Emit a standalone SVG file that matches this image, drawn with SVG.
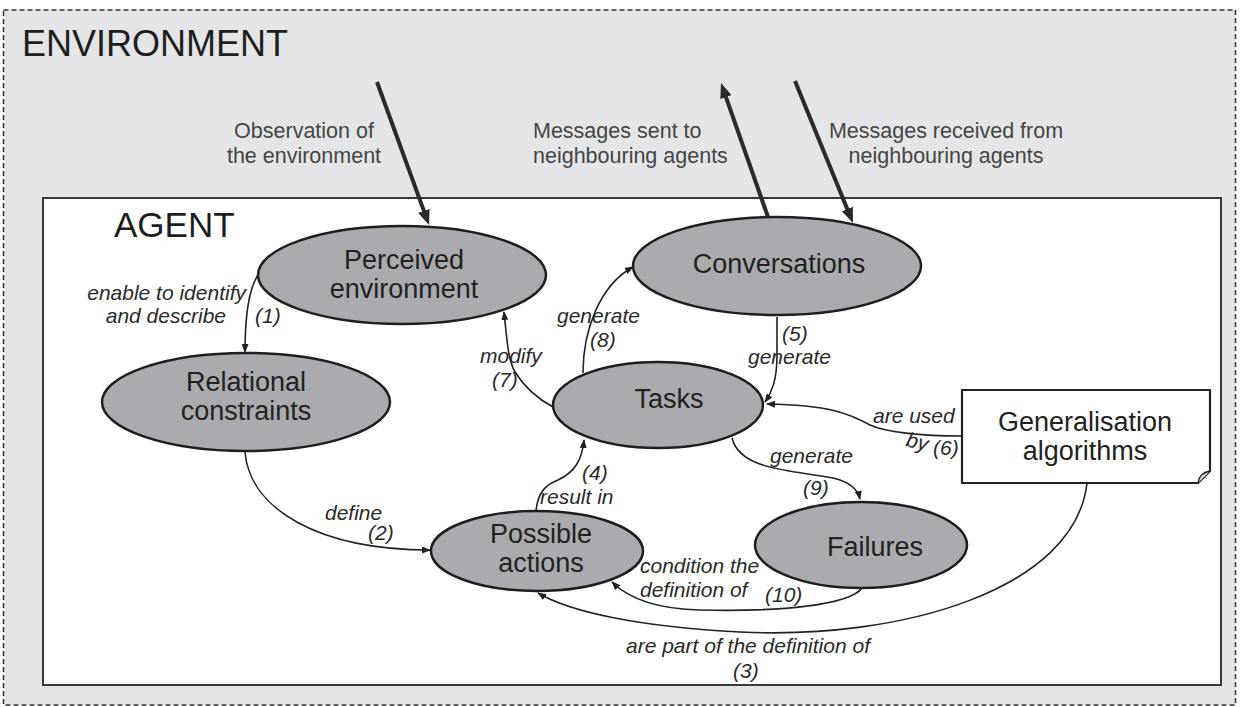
<svg xmlns="http://www.w3.org/2000/svg" width="1240" height="707" viewBox="0 0 1240 707">
<style>
.title{font-family:"Liberation Sans",Arial,sans-serif;fill:#1e1e1e}
.ext{font-family:"Liberation Sans",Arial,sans-serif;font-size:21.5px;fill:#454545}
.node{fill:#a9abae;stroke:#1e1e1e;stroke-width:2.5}
.nt{font-family:"Liberation Sans",Arial,sans-serif;font-size:27px;fill:#222;text-anchor:middle}
.lab{font-family:"Liberation Sans",Arial,sans-serif;font-size:21px;font-style:italic;fill:#2a2a2a}
.c{fill:none;stroke:#222;stroke-width:1.6;marker-end:url(#ah)}
.big{fill:none;stroke:#2a2a2a;stroke-width:4;marker-end:url(#bh)}
</style>
<defs>
<marker id="ah" viewBox="0 0 9 7" refX="8" refY="3.5" markerWidth="9" markerHeight="7" orient="auto" markerUnits="userSpaceOnUse"><path d="M0,0 L9,3.5 L0,7 z" fill="#222"/></marker>
<marker id="bh" viewBox="0 0 15 12" refX="5" refY="6" markerWidth="15" markerHeight="12" orient="auto" markerUnits="userSpaceOnUse"><path d="M0,0 L15,6 L0,12 z" fill="#2a2a2a"/></marker>
</defs>
<rect x="3.5" y="10" width="1232" height="695" fill="#e3e5e7" stroke="#333" stroke-width="1.5" stroke-dasharray="5,3"/>
<text class="title" x="22" y="56" font-size="36">ENVIRONMENT</text>
<text class="ext" x="304" y="138" text-anchor="middle">Observation of</text>
<text class="ext" x="304" y="163" text-anchor="middle">the environment</text>
<text class="ext" x="533" y="138">Messages sent to</text>
<text class="ext" x="533" y="163">neighbouring agents</text>
<text class="ext" x="946" y="138" text-anchor="middle">Messages received from</text>
<text class="ext" x="946" y="163" text-anchor="middle">neighbouring agents</text>
<rect x="43" y="198" width="1178" height="487" fill="#fff" stroke="#3a3a3a" stroke-width="2"/>
<text class="title" x="114" y="237" font-size="35">AGENT</text>
<g id="perceived"><ellipse class="node" cx="402" cy="275" rx="144" ry="49"/><text class="nt" x="404" y="269">Perceived</text><text class="nt" x="404" y="298">environment</text></g>
<g id="relational"><ellipse class="node" cx="246" cy="402" rx="144" ry="49"/><text class="nt" x="246" y="391">Relational</text><text class="nt" x="246" y="420">constraints</text></g>
<g id="conversations"><ellipse class="node" cx="777" cy="266" rx="144" ry="49"/><text class="nt" x="779" y="273">Conversations</text></g>
<g id="tasks"><ellipse class="node" cx="658" cy="405" rx="105" ry="43"/><text class="nt" x="669" y="408">Tasks</text></g>
<g id="possible"><ellipse class="node" cx="537" cy="551" rx="106" ry="40"/><text class="nt" x="541" y="543">Possible</text><text class="nt" x="541" y="572">actions</text></g>
<g id="failures"><ellipse class="node" cx="861" cy="545" rx="106" ry="43"/><text class="nt" x="875" y="556">Failures</text></g>
<g id="generalisation"><path d="M962,390 H1210 V471 L1198,483 H962 Z" fill="#fff" stroke="#222" stroke-width="2.2"/><path d="M1198,483 Q1199,473 1210,471" fill="#ddd" stroke="#222" stroke-width="1.5"/><text class="nt" x="1085" y="431" font-size="28">Generalisation</text><text class="nt" x="1085" y="460" font-size="28">algorithms</text></g>
<g id="connectors">
<path class="big" d="M377,82 L425.6,215.6"/>
<path class="big" d="M768,217 L724.3,92.4"/>
<path class="big" d="M795,81 L849.2,213.7"/>
<path class="c" d="M258,275 C248,290 245,320 245,352"/>
<path class="c" d="M245,452 C250,510 320,550 430,550"/>
<path class="c" d="M1087,483 C1075,590 900,640 740,632 C640,627 570,612 538,593"/>
<path class="c" d="M536,511 C538,490 548,484 558,480 C575,472 582,460 584,440"/>
<path class="c" d="M777,317 L777,355 C777,380 772,392 765,402"/>
<path class="c" d="M962,436 C920,436 885,432 870,425 C850,414 830,405 767,404"/>
<path class="c" d="M553,407 C540,400 525,388 515,372 C508,360 507,340 504,312"/>
<path class="c" d="M583,373 C583,330 600,285 633,267"/>
<path class="c" d="M732,438 C740,470 790,470 833,478 C850,482 858,490 860,499"/>
<path class="c" d="M862,588 C850,605 780,612 700,610 C660,609 630,600 612,582"/>
</g>
<text class="lab" x="246" y="300" text-anchor="end">enable to identify</text>
<text class="lab" x="226" y="323" text-anchor="end">and describe</text>
<text class="lab" x="255" y="323">(1)</text>
<text class="lab" x="325" y="520">define</text>
<text class="lab" x="368" y="540">(2)</text>
<text class="lab" x="748" y="653" text-anchor="middle">are part of the definition of</text>
<text class="lab" x="733" y="678">(3)</text>
<text class="lab" x="582" y="480">(4)</text>
<text class="lab" x="540" y="504">result in</text>
<text class="lab" x="782" y="341">(5)</text>
<text class="lab" x="748" y="364">generate</text>
<text class="lab" x="873" y="423">are used</text>
<text class="lab" x="905" y="446" transform="rotate(14 905 446)">by</text>
<text class="lab" x="933" y="455">(6)</text>
<text class="lab" x="480" y="363">modify</text>
<text class="lab" x="492" y="387">(7)</text>
<text class="lab" x="557" y="323">generate</text>
<text class="lab" x="590" y="347">(8)</text>
<text class="lab" x="770" y="463">generate</text>
<text class="lab" x="803" y="495">(9)</text>
<text class="lab" x="640" y="573">condition the</text>
<text class="lab" x="640" y="597">definition of</text>
<text class="lab" x="765" y="602">(10)</text>
</svg>
